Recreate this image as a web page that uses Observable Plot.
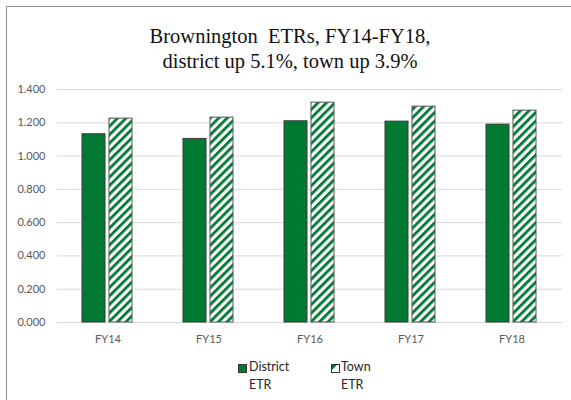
<!DOCTYPE html>
<html><head><meta charset="utf-8">
<script src="https://cdn.jsdelivr.net/npm/d3@7"></script>
<script src="https://cdn.jsdelivr.net/npm/@observablehq/plot@0.6"></script>
<style>
body{margin:0;width:571px;height:400px;overflow:hidden;background:#fff;position:relative;font-family:Lato,sans-serif}
#frame{position:absolute;left:6px;top:6px;width:640px;height:440px;border:1px solid #8c8c8c;box-sizing:border-box}
#title{position:absolute;left:0;width:580px;top:24px;text-align:center;font-family:"Liberation Serif",serif;font-size:20.5px;line-height:25px;color:#111;white-space:pre}
#chart{position:absolute;left:0;top:80px}
.leg{position:absolute;font-size:12.5px;color:#262626;line-height:18px}
.sw{position:absolute}
</style></head><body>
<div id="frame"></div>
<div id="title">Brownington  ETRs, FY14-FY18,
district up 5.1%, town up 3.9%</div>
<div id="chart"></div>
<svg class="sw" style="left:238px;top:364px" width="9" height="9"><rect x="0.5" y="0.5" width="8" height="8" fill="#007a33" stroke="#333"/></svg>
<div class="leg" style="left:249px;top:358px">District<br>ETR</div>
<svg class="sw" style="left:331px;top:364px" width="9" height="9"><rect x="0.5" y="0.5" width="8" height="8" fill="#fff" stroke="#333"/><polygon points="1,1 6,1 1,6" fill="#007a33"/></svg>
<div class="leg" style="left:341px;top:358px">Town<br>ETR</div>
<script>
const years = ["FY14", "FY15", "FY16", "FY17", "FY18"];
const seriesNames = ["District ETR", "Town ETR"];
const district = [1.131, 1.103, 1.209, 1.207, 1.189];
const town = [1.225, 1.231, 1.321, 1.297, 1.273];
const yTicks = [0, 0.2, 0.4, 0.6, 0.8, 1.0, 1.2, 1.4];

const table = [];
years.forEach((y, i) => {
  table.push({year: y, series: seriesNames[0], value: district[i]});
  table.push({year: y, series: seriesNames[1], value: town[i]});
});

const chart = Plot.plot({
  width: 571,
  height: 270,
  marginTop: 9,
  marginBottom: 28,
  marginLeft: 56,
  marginRight: 8,
  style: {color: "#595959", fontFamily: "Lato, sans-serif", fontSize: "11px", background: "transparent"},
  facet: {data: table, x: "year"},
  fx: {domain: years, padding: 0, label: null, axis: "bottom", tickSize: 0, tickPadding: 13},
  x: {domain: seriesNames, paddingInner: 0.145, paddingOuter: 0.916, axis: null},
  y: {domain: [0, 1.4], ticks: yTicks, tickFormat: d3.format(".3f"), label: null, tickSize: 0, tickPadding: 12},
  marks: [
    Plot.ruleY(yTicks, {stroke: "#d9d9d9", strokeWidth: 1}),
    Plot.barY(table, {filter: d => d.series === seriesNames[0], x: "series", y: "value", fill: "#007a33", stroke: "#3a3a3a", strokeWidth: 1}),
    Plot.barY(table, {filter: d => d.series === seriesNames[1], x: "series", y: "value", fill: "url(#hatch)", stroke: "#555555", strokeWidth: 1})
  ]
});
const ns = "http://www.w3.org/2000/svg";
const defs = document.createElementNS(ns, "defs");
defs.innerHTML = '<pattern id="hatch" patternUnits="userSpaceOnUse" width="6" height="6" patternTransform="rotate(45)"><rect width="6" height="6" fill="#fff"/><rect width="2.8" height="6" fill="#007a33"/></pattern>';
chart.insertBefore(defs, chart.firstChild);
document.getElementById("chart").appendChild(chart);
</script>
</body></html>
